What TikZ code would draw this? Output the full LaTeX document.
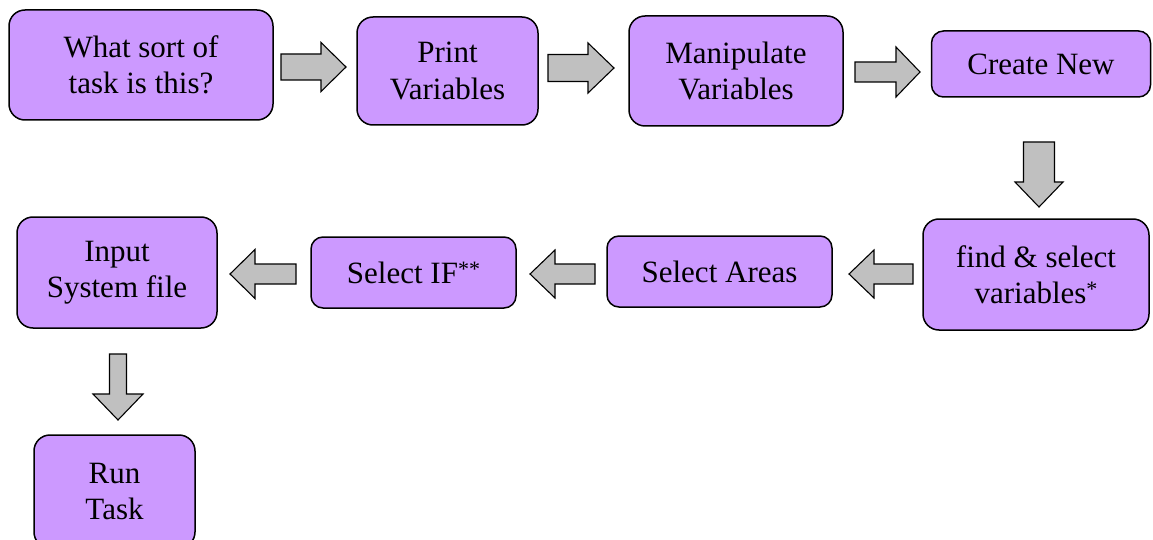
\documentclass[tikz,border=0pt]{standalone}
\usepackage{fontspec}
\setmainfont{Liberation Serif}
\usetikzlibrary{calc}
\definecolor{boxfill}{HTML}{CC99FF}
\definecolor{arrowfill}{HTML}{C0C0C0}
\newcommand{\smallstar}[1]{{\fontsize{22}{22}\selectfont\raisebox{7pt}{#1}}}
\tikzset{
  stepbox/.style={draw=black, line width=1.5pt, fill=boxfill, rounded corners=16pt,
    align=center, inner sep=0pt, font=\fontsize{31}{36.5}\selectfont},
  smallbox/.style={stepbox, rounded corners=12pt},
  blockarrow/.style={draw=black, line width=1.1pt, fill=arrowfill, line join=miter}
}
% #1 start, #2 end, #3 shaft half width, #4 head half width, #5 head length, #6 unique name
\newcommand{\blockarr}[6]{%
  \coordinate (#6c) at ($(#2)!#5pt!(#1)$);
  \draw[blockarrow] ($(#1)!#3pt!90:(#2)$) -- ($(#6c)!#3pt!90:(#2)$) -- ($(#6c)!#4pt!90:(#2)$)
     -- (#2) -- ($(#6c)!#4pt!-90:(#2)$) -- ($(#6c)!#3pt!-90:(#2)$) -- ($(#1)!#3pt!-90:(#2)$) -- cycle;
}
\begin{document}
\begin{tikzpicture}[x=1pt, y=-1pt]
\useasboundingbox (0,0) rectangle (1153,540);
\begin{scope}
\clip (0,0) rectangle (1153,540);
% boxes
\node[stepbox, minimum width=264pt, minimum height=110pt] (b1) at (141,65) {What sort of\\task is this?};
\node[stepbox, minimum width=181pt, minimum height=108pt] (b2) at (447.5,71) {Print\\Variables};
\node[stepbox, minimum width=214pt, minimum height=110pt] (b3) at (736,71) {Manipulate\\Variables};
\node[smallbox, minimum width=219pt, minimum height=66pt] (b4) at (1041,64) {Create New};
\node[stepbox, minimum width=226pt, minimum height=111pt] (b5) at (1036,274.5) {find \& select\\variables\smallstar{*}};
\node[smallbox, minimum width=225pt, minimum height=71pt] (b6) at (719.5,271.5) {Select Areas};
\node[smallbox, minimum width=205pt, minimum height=71pt] (b7) at (413.5,272.5) {Select IF\smallstar{**}};
\node[stepbox, minimum width=200pt, minimum height=111pt] (b8) at (117,272.5) {Input\\System file};
\node[stepbox, minimum width=161pt, minimum height=113pt] (b9) at (114.5,491.5) {Run\\Task};
% arrow end points
\coordinate (a1s) at (281,67);  \coordinate (a1e) at (346,67);
\coordinate (a2s) at (548,68);  \coordinate (a2e) at (614,68);
\coordinate (a3s) at (855,72);  \coordinate (a3e) at (920,72);
\coordinate (d1s) at (1039,142); \coordinate (d1e) at (1039,207);
\coordinate (l1s) at (913,274); \coordinate (l1e) at (849,274);
\coordinate (l2s) at (595,274); \coordinate (l2e) at (530,274);
\coordinate (l3s) at (296,274); \coordinate (l3e) at (230,274);
\coordinate (d2s) at (118,354); \coordinate (d2e) at (118,420);
\blockarr{a1s}{a1e}{13}{24.5}{25}{a1}
\blockarr{a2s}{a2e}{13.5}{25}{26}{a2}
\blockarr{a3s}{a3e}{10}{25}{24}{a3}
\blockarr{d1s}{d1e}{15.5}{24}{25}{d1}
\blockarr{l1s}{l1e}{10}{24}{25}{l1}
\blockarr{l2s}{l2e}{10}{24}{25}{l2}
\blockarr{l3s}{l3e}{10}{24.5}{25}{l3}
\blockarr{d2s}{d2e}{8.5}{25}{26}{d2}
\end{scope}
\end{tikzpicture}
\end{document}
